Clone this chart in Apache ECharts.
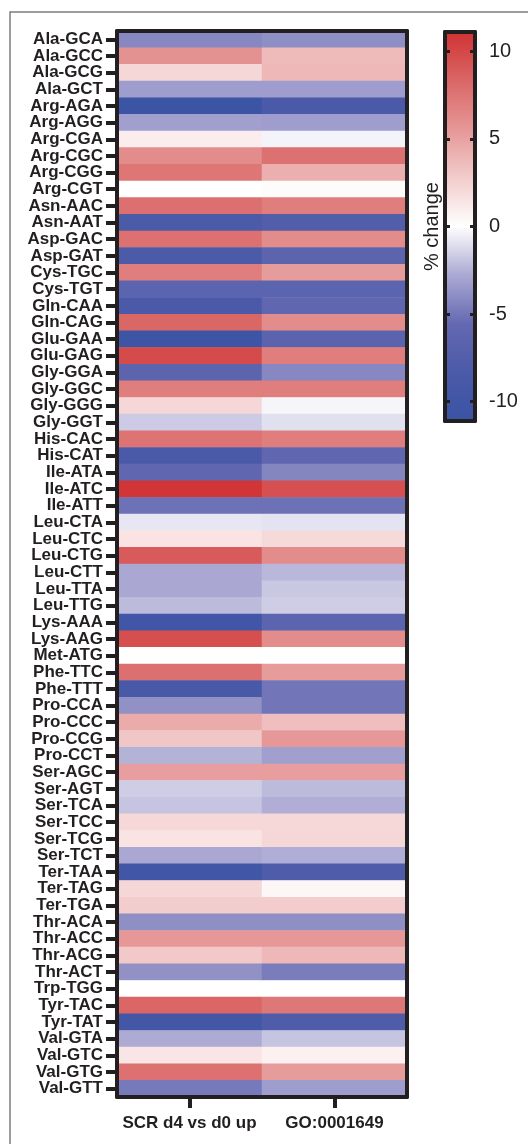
<!DOCTYPE html>
<html>
<head>
<meta charset="utf-8">
<script src="https://cdn.jsdelivr.net/npm/echarts@6/dist/echarts.min.js"></script>
<style>
html,body{margin:0;padding:0;background:#fff;}
#chart{width:528px;height:1144px;}
</style>
</head>
<body>
<div id="chart"></div>
<script>
const codons = ['Ala-GCA','Ala-GCC','Ala-GCG','Ala-GCT','Arg-AGA','Arg-AGG','Arg-CGA','Arg-CGC','Arg-CGG','Arg-CGT',
'Asn-AAC','Asn-AAT','Asp-GAC','Asp-GAT','Cys-TGC','Cys-TGT','Gln-CAA','Gln-CAG','Glu-GAA','Glu-GAG',
'Gly-GGA','Gly-GGC','Gly-GGG','Gly-GGT','His-CAC','His-CAT','Ile-ATA','Ile-ATC','Ile-ATT','Leu-CTA',
'Leu-CTC','Leu-CTG','Leu-CTT','Leu-TTA','Leu-TTG','Lys-AAA','Lys-AAG','Met-ATG','Phe-TTC','Phe-TTT',
'Pro-CCA','Pro-CCC','Pro-CCG','Pro-CCT','Ser-AGC','Ser-AGT','Ser-TCA','Ser-TCC','Ser-TCG','Ser-TCT',
'Ter-TAA','Ter-TAG','Ter-TGA','Thr-ACA','Thr-ACC','Thr-ACG','Thr-ACT','Trp-TGG','Tyr-TAC','Tyr-TAT',
'Val-GTA','Val-GTC','Val-GTG','Val-GTT'];

const columns = ['SCR d4 vs d0 up', 'GO:0001649'];

const scrValues = [-4.2, 5.9, 2.2, -3.3, -10.8, -3.2, 1.0, 6.2, 7.4, 0.0,
  7.8, -8.2, 7.7, -8.2, 7.0, -6.5, -8.4, 8.3, -10.5, 9.8,
  -6.4, 7.0, 2.2, -1.7, 7.6, -8.4, -6.0, 11.0, -5.2, -0.8,
  1.5, 9.0, -2.8, -2.8, -2.2, -10.0, 9.6, 0.0, 7.8, -8.8,
  -3.8, 4.5, 3.1, -2.5, 5.2, -1.6, -1.9, 2.1, 1.5, -2.8,
  -10.0, 2.2, 2.7, -3.9, 5.5, 3.0, -3.8, 0.0, 8.3, -9.7,
  -2.7, 1.4, 7.7, -4.8];

const goValues = [-3.9, 3.7, 3.8, -3.3, -8.5, -3.3, -0.4, 7.7, 4.3, 0.2,
  7.0, -7.6, 6.2, -6.4, 5.3, -6.5, -6.0, 6.2, -6.6, 7.0,
  -4.2, 7.0, -0.3, -1.0, 7.0, -6.0, -4.3, 9.5, -5.2, -0.9,
  2.0, 6.2, -2.3, -1.8, -1.6, -6.5, 6.2, 0.0, 5.3, -5.0,
  -5.0, 3.5, 5.5, -3.2, 5.2, -2.2, -2.6, 2.1, 2.2, -2.6,
  -8.0, 0.5, 2.7, -3.9, 5.5, 3.8, -4.7, 0.0, 7.3, -8.0,
  -1.9, 0.8, 5.3, -3.3];

const colorTicks = [-10, -5, 0, 5, 10];
const colorMin = -11.1, colorMax = 11.1;
const rampColors = ['#3a53a4','#4b5aa8','#6469b1','#aba9d3','#ffffff','#f3cccc','#e69797','#da6666','#d13334'];

const seriesCols = [scrValues, goValues];
const heatData = [];
seriesCols.forEach((vals, c) => vals.forEach((v, r) => heatData.push([c, r, v])));

const ink = '#231f20';
const font = "'Liberation Sans', Arial, Helvetica, sans-serif";

const chart = echarts.init(document.getElementById('chart'), null, {renderer: 'canvas'});
chart.setOption({
  animation: false,
  backgroundColor: '#fff',
  graphic: [{
    type: 'rect', silent: true, z: -10,
    shape: {x: 10, y: 12, width: 1000, height: 2000},
    style: {fill: 'none', stroke: '#7d7d7d', lineWidth: 1.5}
  }],
  grid: [
    {left: 117, right: 121, top: 31, bottom: 47},
    {left: 445, width: 30, top: 32, height: 389}
  ],
  xAxis: [
    {gridIndex: 0, type: 'category', data: columns, position: 'bottom', z: 10,
     axisLine: {show: true, onZero: false, lineStyle: {color: ink, width: 4}},
     axisTick: {show: true, alignWithLabel: true, interval: 0, length: 11, lineStyle: {color: ink, width: 4}},
     axisLabel: {color: ink, fontFamily: font, fontWeight: 'bold', fontSize: 17, margin: 18, interval: 0, hideOverlap: false},
     splitLine: {show: false}},
    {gridIndex: 0, type: 'category', data: columns, position: 'top', z: 10,
     axisLine: {show: true, onZero: false, lineStyle: {color: ink, width: 4}},
     axisTick: {show: false}, axisLabel: {show: false}, splitLine: {show: false}},
    {gridIndex: 1, type: 'value', min: 0, max: 1, position: 'bottom', z: 10,
     axisLine: {show: true, onZero: false, lineStyle: {color: ink, width: 4}},
     axisTick: {show: false}, axisLabel: {show: false}, splitLine: {show: false}},
    {gridIndex: 1, type: 'value', min: 0, max: 1, position: 'top', z: 10,
     axisLine: {show: true, onZero: false, lineStyle: {color: ink, width: 4}},
     axisTick: {show: false}, axisLabel: {show: false}, splitLine: {show: false}}
  ],
  yAxis: [
    {gridIndex: 0, type: 'category', data: codons, inverse: true, position: 'left', z: 10,
     axisLine: {show: true, onZero: false, lineStyle: {color: ink, width: 4}},
     axisTick: {show: true, alignWithLabel: true, interval: 0, length: 11, lineStyle: {color: ink, width: 4}},
     axisLabel: {color: ink, fontFamily: font, fontWeight: 'bold', fontSize: 17, margin: 14, interval: 0},
     splitLine: {show: false}},
    {gridIndex: 0, type: 'category', data: codons, inverse: true, position: 'right', z: 10,
     axisLine: {show: true, onZero: false, lineStyle: {color: ink, width: 4}},
     axisTick: {show: false}, axisLabel: {show: false}, splitLine: {show: false}},
    {gridIndex: 1, type: 'value', min: colorMin, max: colorMax, position: 'right', z: 10,
     axisLine: {show: true, onZero: false, lineStyle: {color: ink, width: 4}},
     axisTick: {show: true, inside: true, length: 5, customValues: colorTicks, lineStyle: {color: ink, width: 3}},
     axisLabel: {show: true, customValues: colorTicks, color: ink, fontFamily: font, fontSize: 20, margin: 14},
     splitLine: {show: false}},
    {gridIndex: 1, type: 'value', min: colorMin, max: colorMax, position: 'left', z: 10,
     name: '% change', nameLocation: 'middle', nameRotate: 90, nameGap: 3,
     nameTextStyle: {color: ink, fontFamily: font, fontSize: 20},
     axisLine: {show: true, onZero: false, lineStyle: {color: ink, width: 4}},
     axisTick: {show: true, inside: true, length: 5, customValues: colorTicks, lineStyle: {color: ink, width: 3}},
     axisLabel: {show: false}, splitLine: {show: false}}
  ],
  visualMap: {
    type: 'continuous', seriesIndex: 0, min: colorMin, max: colorMax,
    calculable: false, realtime: false, hoverLink: false,
    left: 445, top: 32, itemWidth: 30, itemHeight: 389, padding: 0,
    text: null, showLabel: false,
    inRange: {color: rampColors}
  },
  series: [{
    type: 'heatmap', xAxisIndex: 0, yAxisIndex: 0,
    data: heatData,
    itemStyle: {borderWidth: 0},
    emphasis: {disabled: true}
  }]
});
</script>
</body>
</html>
